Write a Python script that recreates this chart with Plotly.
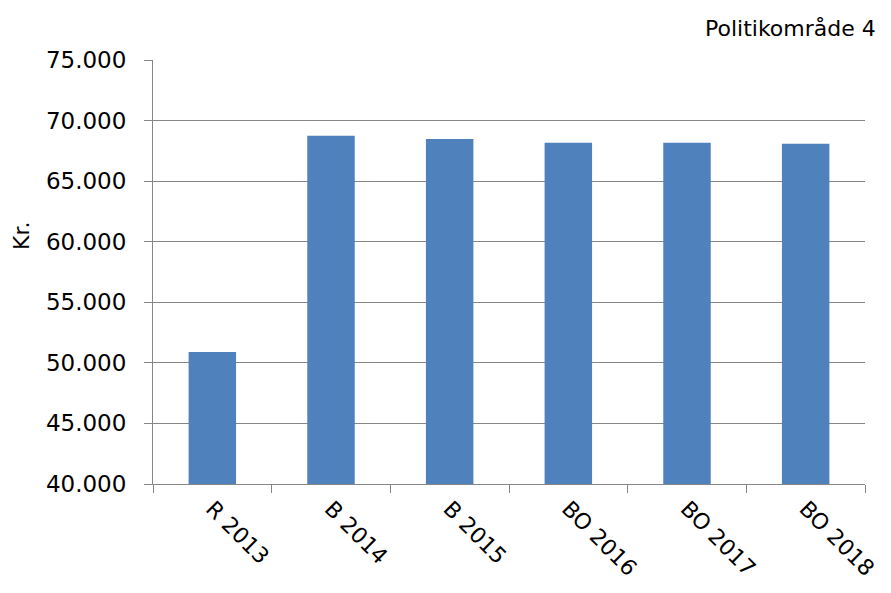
import plotly.graph_objects as go

# Data
categories = ["R 2013", "B 2014", "B 2015", "BO 2016", "BO 2017", "BO 2018"]
values = [50900, 68750, 68470, 68170, 68170, 68080]
y_ticks = [40000, 45000, 50000, 55000, 60000, 65000, 70000, 75000]

fig = go.Figure()

fig.add_trace(go.Bar(
    x=categories,
    y=values,
    marker=dict(color="#4F81BD", line=dict(width=0)),
))

# page body has an 8px margin, so the figure is a bit smaller than the window
fig.update_layout(
    width=875,
    height=577,
    margin=dict(l=145, r=18, t=52, b=101, autoexpand=False),
    paper_bgcolor="white",
    plot_bgcolor="white",
    font=dict(family="DejaVu Sans", size=22, color="#000000"),
    separators=",.",
    bargap=0.6,
    showlegend=False,
    annotations=[
        dict(
            text="Politikområde 4",
            xref="paper", yref="paper",
            x=1.018, y=1.0, yshift=32,
            xanchor="right", yanchor="middle",
            showarrow=False,
            font=dict(size=22),
        ),
        # y axis title sits a bit above the middle in the original
        dict(
            text="Kr.",
            xref="paper", yref="paper",
            x=-0.184, y=0.585,
            xanchor="center", yanchor="middle",
            textangle=-90,
            showarrow=False,
            font=dict(size=22),
        ),
    ],
)

fig.update_xaxes(
    type="category",
    automargin=False,
    tickangle=45,
    tickson="boundaries",
    ticks="outside",
    ticklen=8,
    tickcolor="#868686",
    ticklabelstandoff=2,
    showline=True,
    linecolor="#868686",
    linewidth=1,
    showgrid=False,
    tickfont=dict(size=22),
)

fig.update_yaxes(
    automargin=False,
    range=[40000, 75000],
    tickvals=y_ticks,
    tickformat=",d",
    ticks="outside",
    ticklen=8,
    tickcolor="#868686",
    ticklabelstandoff=13,
    showline=True,
    linecolor="#868686",
    linewidth=1,
    showgrid=True,
    gridcolor="#868686",
    gridwidth=1,
    zeroline=False,
    tickfont=dict(size=23),
)

fig.write_html("out.html")
